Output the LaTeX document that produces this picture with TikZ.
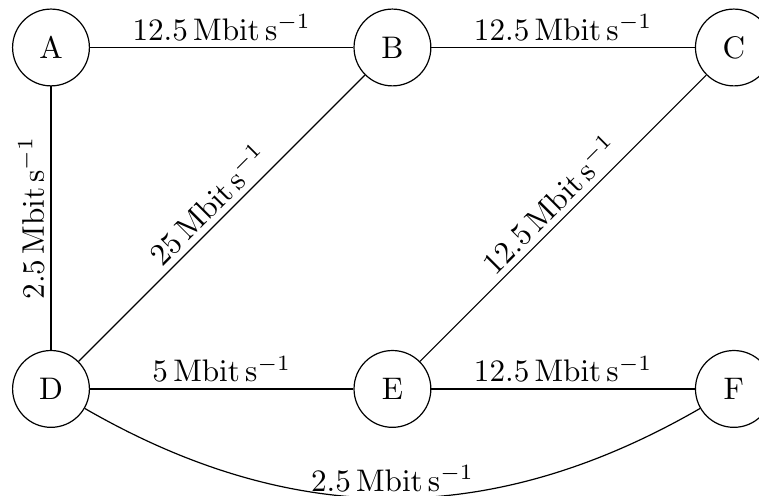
\documentclass[tikz,border=0pt]{standalone}
\usepackage{fix-cm}
\newcommand{\bitrate}[1]{$#1\,\mathrm{Mbit\,s^{-1}}$}
\begin{document}
\begin{tikzpicture}[
  font=\fontsize{10.4pt}{12.5pt}\selectfont,
  station/.style={circle, draw, minimum size=0.9cm, inner sep=0pt},
  lbl/.style={midway, above, inner sep=2.2pt},
  vlbl/.style={midway, anchor=south, rotate=90, inner sep=2.2pt}
]
\useasboundingbox (-17pt,15.83pt) rectangle ++(253pt,-165.33pt);
\node[station] (A) at (0,0) {A};
\node[station] (B) at (4,0) {B};
\node[station] (C) at (8,0) {C};
\node[station] (D) at (0,-4) {D};
\node[station] (E) at (4,-4) {E};
\node[station] (F) at (8,-4) {F};
\draw (A) -- node[lbl] {\bitrate{12.5}} (B);
\draw (B) -- node[lbl] {\bitrate{12.5}} (C);
\draw (A) -- node[vlbl] {\bitrate{2.5}} (D);
\draw (D) -- node[lbl, sloped] {\bitrate{25}} (B);
\draw (E) -- node[lbl, sloped] {\bitrate{12.5}} (C);
\draw (D) -- node[lbl] {\bitrate{5}} (E);
\draw (E) -- node[lbl] {\bitrate{12.5}} (F);
\draw (D) to[bend right=30] node[lbl] {\bitrate{2.5}} (F);
\end{tikzpicture}
\end{document}
